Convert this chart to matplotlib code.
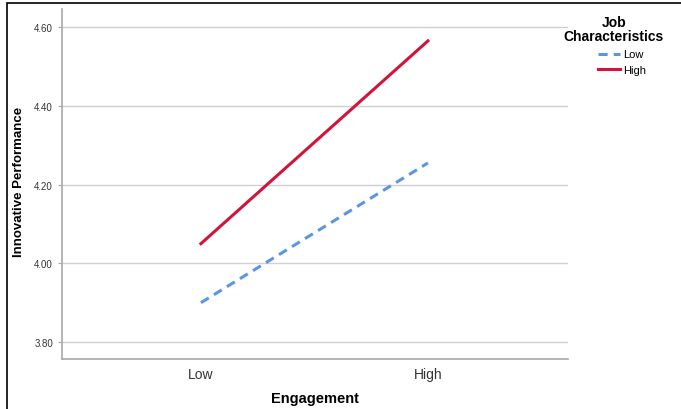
import matplotlib.pyplot as plt
from matplotlib.patches import Rectangle

plt.rcParams['font.family'] = ['Liberation Sans', 'DejaVu Sans']

# Data
engagement = ['Low', 'High']
perf_low_jc = [3.90, 4.255]
perf_high_jc = [4.05, 4.565]
y_ticks = [3.80, 4.00, 4.20, 4.40, 4.60]

fig = plt.figure(figsize=(6.81, 4.10), dpi=100)
ax = fig.add_axes([62 / 681, 50 / 410, 506 / 681, 350 / 410])

x = list(range(len(engagement)))
ax.plot(x, perf_low_jc, color='#5b96e3', lw=2.2, ls=(0, (3, 2)), label='Low')
ax.plot(x, perf_high_jc, color='#d2143a', lw=2.2, label='High')

ax.set_xlim(-0.612, 1.617)
ax.set_ylim(3.757, 4.646)
ax.set_yticks(y_ticks)
ax.set_yticklabels([f'{v:.2f}' for v in y_ticks], fontsize=7, color='#333333')
ax.set_xticks(x)
ax.set_xticklabels(engagement, fontsize=10, color='#333333')
ax.tick_params(axis='x', length=0, pad=6)
ax.tick_params(axis='y', length=3, color='#aaaaaa', width=0.8)
ax.yaxis.grid(True, color='#d0d0d0', lw=1)
ax.set_axisbelow(True)

for side in ['top', 'right']:
    ax.spines[side].set_visible(False)
for side in ['left', 'bottom']:
    ax.spines[side].set_color('#a8a8a8')
    ax.spines[side].set_linewidth(1.2)

ax.set_xlabel('Engagement', fontsize=10.5, fontweight='bold', labelpad=7)
ax.set_ylabel('Innovative Performance', fontsize=9.5, fontweight='bold')
ax.yaxis.set_label_coords(-0.074, 0.51)

# legend title drawn separately so it can be centred above the entries
fig.text(614 / 681, 1 - 16 / 410, 'Job\nCharacteristics', ha='center', va='top',
         fontsize=10, fontweight='bold', linespacing=1.0)
leg = ax.legend(loc='center left', bbox_to_anchor=(598 / 681, 1 - 63 / 410),
                bbox_transform=fig.transFigure, frameon=False, fontsize=8,
                handlelength=2.0, handletextpad=0.3, labelspacing=0.45,
                borderaxespad=0, borderpad=0)

# outer frame (partly cropped in the original)
fig.patches.append(Rectangle((7 / 681, -0.1), 1.2, (410 - 4) / 410 + 0.1,
                             transform=fig.transFigure, fill=False,
                             edgecolor='black', lw=1.2))

fig.savefig('out.png', dpi=100)
